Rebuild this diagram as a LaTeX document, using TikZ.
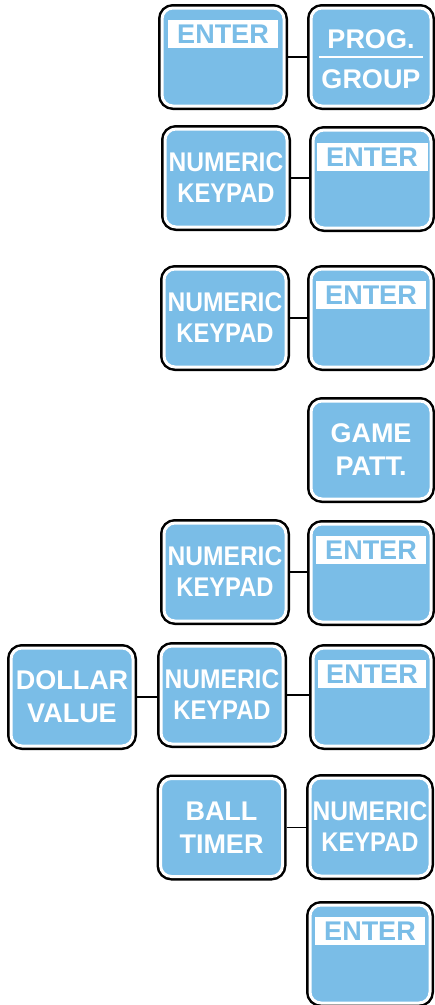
\documentclass[tikz,border=0pt]{standalone}
\usepackage{fontspec}
\setmainfont{Liberation Sans}
\usepackage{graphicx}
\definecolor{keyblue}{HTML}{7ABDE7}
\newcommand{\keyfont}{\fontsize{27}{33}\selectfont\bfseries}
\newcommand{\numfont}{\fontsize{27}{31}\selectfont\bfseries}
\newcommand{\numkey}{\scalebox{0.91}[1]{NUMERIC}\\\scalebox{0.88}[1]{KEYPAD}}
\tikzset{
  keybox/.style={rounded corners=11pt, fill=keyblue, draw=white, line width=3pt,
    preaction={draw=black, line width=8pt},
    minimum width=122pt, minimum height=98pt, inner sep=0pt, outer sep=4pt,
    text=white, font=\keyfont, align=center},
  numbox/.style={keybox, font=\numfont},
  enterlbl/.style={fill=white, text=keyblue, font=\keyfont, minimum width=110pt,
    minimum height=28pt, inner sep=0pt, text height=19.5pt, text depth=0pt},
  lbl/.style={text=white, font=\keyfont, inner sep=0pt, text height=19.5pt, text depth=0pt},
  link/.style={draw=black, line width=1.6pt}
}
\begin{document}
\begin{tikzpicture}[x=1pt,y=-1pt]
\useasboundingbox (0,0) rectangle (435,1005);
% row 1
\node[keybox] (E1) at (223,57) {};
\node[keybox, minimum width=120pt] (PG) at (371,57) {};
\node[enterlbl] (E1l) at ([yshift=-30pt]E1.north) {ENTER};
\node[lbl] (PGa) at ([yshift=-35pt]PG.north) {PROG.};
\node[lbl] (PGb) at ([yshift=-75pt]PG.north) {GROUP};
\draw[white, line width=2pt] ([xshift=-52pt]PG.center) coordinate (r1) -- ([xshift=52pt]PG.center) coordinate (r2);
\draw[link] (E1.east) -- (E1.east -| PG.west);
% row 2
\node[numbox] (N2) at (226,178) {\numkey};
\node[keybox, minimum width=118pt] (E2) at (372,179) {};
\node[enterlbl, minimum width=111pt] (E2l) at ([yshift=-31pt]E2.north) {ENTER};
\draw[link] (N2.east) -- (N2.east -| E2.west);
% row 3
\node[numbox] (N3) at (225,318) {\numkey};
\node[keybox, minimum width=120pt] (E3) at (371,318) {};
\node[enterlbl] (E3l) at ([yshift=-30pt]E3.north) {ENTER};
\draw[link] (N3.east) -- (N3.east -| E3.west);
% row 4
\node[keybox, minimum width=120pt] (GP) at (371,450) {GAME\\PATT.};
% row 5
\node[numbox] (N5) at (225,572) {\numkey};
\node[keybox, minimum width=120pt] (E5) at (371,573) {};
\node[enterlbl] (E5l) at ([yshift=-30pt]E5.north) {ENTER};
\draw[link] (N5.east) -- (N5.east -| E5.west);
% row 6
\node[keybox] (DV) at (72,697) {DOLLAR\\VALUE};
\node[numbox] (N6) at (222,695) {\numkey};
\node[keybox, minimum width=118pt] (E6) at (372,697) {};
\node[enterlbl, minimum width=108pt] (E6l) at ([yshift=-30pt]E6.north) {ENTER};
\draw[link] (DV.east) -- (DV.east -| N6.west);
\draw[link] (N6.east) -- (N6.east -| E6.west);
% row 7
\node[keybox] (BT) at (221.5,827.5) {BALL\\TIMER};
\node[numbox, minimum width=120pt] (N7) at (370,827) {\numkey};
\draw[link] (BT.east) -- (BT.east -| N7.west);
% row 8
\node[keybox, minimum width=120pt] (E8) at (370,954) {};
\node[enterlbl] (E8l) at ([yshift=-30pt]E8.north) {ENTER};
\end{tikzpicture}
\end{document}
